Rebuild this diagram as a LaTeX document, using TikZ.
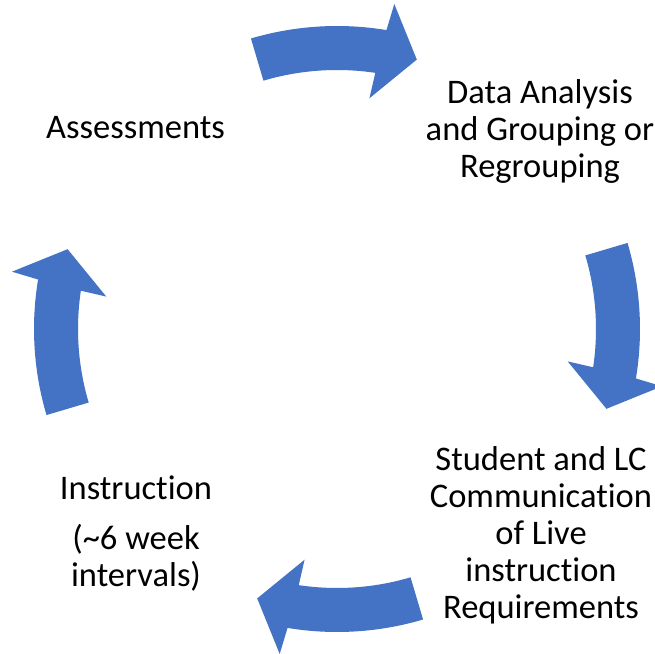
\documentclass[tikz,border=0pt]{standalone}
\usepackage{fontspec}
\setmainfont{Carlito}[Ligatures={NoCommon}]
\definecolor{cycleblue}{HTML}{4472C4}
\tikzset{
  cyclearrowstyle/.style={fill=cycleblue, draw=none},
  steptext/.style={align=center, inner sep=0pt, font=\fontsize{34.5}{37}\selectfont, text=black}
}
\newcommand{\cyclearrow}[1]{%
  \pgfmathsetmacro{\tailang}{#1+16.5}%
  \pgfmathsetmacro{\tipang}{#1-16.5}%
  \pgfmathsetmacro{\shoang}{\tipang+7.1}%
  \pgfmathsetmacro{\shiang}{\tipang+8.0}%
  \pgfmathsetmacro{\boang}{\tipang+6.5}%
  \pgfmathsetmacro{\biang}{\tipang+8.5}%
  \fill[cyclearrowstyle] (\tailang:303) arc[start angle=\tailang, end angle=\shoang, radius=303pt]
    -- (\boang:330) -- (\tipang:281) -- (\biang:233) -- (\shiang:259)
    arc[start angle=\shiang, end angle=\tailang, radius=259pt] -- cycle;
}
\begin{document}
\begin{tikzpicture}[x=1pt, y=1pt]
\useasboundingbox (0,0) rectangle (655,653);
\clip (0,0) rectangle (655,653);
\fill[white] (0,0) rectangle (655,653);
\begin{scope}[shift={(337,324)}]
  \cyclearrow{90}
  \cyclearrow{0}
  \cyclearrow{-90}
  \cyclearrow{180}
\end{scope}
\node[steptext] (assess) at (135.5,525) {Assessments};
\node[steptext] (data) at (540,522) {Data Analysis\\and Grouping or\\Regrouping};
\node[steptext] (student) at (541,118) {Student and LC\\Communication\\of Live\\instruction\\Requirements};
\node[steptext] (instr) at (136,119) {Instruction\\[13pt](\textasciitilde 6 week\\intervals)};
\end{tikzpicture}
\end{document}
